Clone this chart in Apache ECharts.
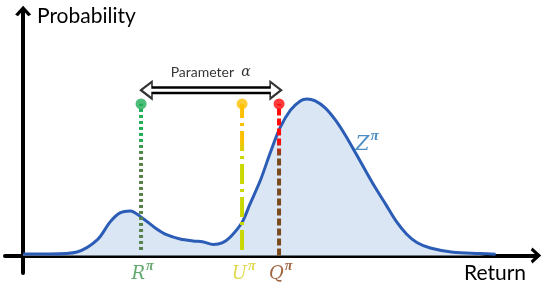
<!DOCTYPE html>
<html>
<head>
<meta charset="utf-8">
<script src="https://cdn.jsdelivr.net/npm/echarts@6/dist/echarts.min.js"></script>
<style>
  html, body { margin: 0; padding: 0; background: #fff; }
  #show_charts { width: 550px; height: 292px; }
</style>
</head>
<body>
<div id="show_charts"></div>
<script>
// return distribution Z (density)
var xReturn = [0, 5.2, 10.4, 14.3, 16.8, 18.7, 20.7, 23.0, 25.5, 27.8, 30.3, 32.8, 34.8, 36.7, 38.4, 40.0,
    42.3, 43.8, 45.8, 47.7, 49.6, 51.6, 53.5, 54.8, 56.4, 58.3, 60.3, 62.2, 64.1, 66.0, 68.0, 70.0,
    72.0, 74.0, 76.0, 78.6, 83.0, 88.2, 91.2];
var yProb = [0.006, 0.006, 0.014, 0.062, 0.134, 0.17, 0.178, 0.15, 0.11, 0.082, 0.066, 0.058, 0.054, 0.044, 0.05, 0.074,
    0.134, 0.206, 0.30, 0.41, 0.51, 0.58, 0.617, 0.625, 0.617, 0.589, 0.54, 0.48, 0.412, 0.342, 0.27, 0.204,
    0.137, 0.086, 0.052, 0.03, 0.013, 0.008, 0.005];

// the three statistics R, U, Q
var markerNames = ['R', 'U', 'Q'];
var markerX = [22.76, 42.26, 49.4];
var markerTop = [0.605, 0.605, 0.605];
var markerBottom = [0.022, 0.022, 0.0];

// parameter alpha arrow (from R to Q)
var arrowY = 0.66;
var arrowFrom = 22.76;
var arrowTo = 49.8;

var myChart = echarts.init(document.getElementById('show_charts'));

var dashTypes = [[3, 3], [20, 5, 3, 5], [7, 3]];
var topColors = ['#1fae55', '#ffc000', '#ff0a0a'];
var lowColors = ['#55804a', '#c9d800', '#7a4a1e'];
var labelColors = ['#3c9448', '#d8d024', '#8a3f12'];

var series = [];

series.push({
    name: 'Z',
    type: 'line',
    smooth: 0.3,
    symbol: 'none',
    data: xReturn.map(function (x, i) { return [x, yProb[i]]; }),
    lineStyle: { color: '#2b5cb6', width: 3 },
    areaStyle: { color: '#dae6f3', opacity: 1 },
    z: 2
});

for (var i = 0; i < markerNames.length; i++) {
    series.push({
        name: markerNames[i],
        type: 'line',
        symbol: 'none',
        data: [[markerX[i], markerBottom[i]], [markerX[i], markerTop[i]]],
        lineStyle: {
            width: 4,
            type: dashTypes[i],
            color: {
                type: 'linear', x: 0, y: 0, x2: 0, y2: 1,
                colorStops: [
                    { offset: 0, color: topColors[i] },
                    { offset: 0.25, color: topColors[i] },
                    { offset: 0.35, color: lowColors[i] },
                    { offset: 1, color: lowColors[i] }
                ]
            }
        },
        z: 3
    });
}

// dots on top of the marker lines
series.push({
    type: 'scatter',
    symbol: 'circle',
    symbolSize: 11,
    data: markerX.map(function (x, i) {
        return { value: [x, markerTop[i]], itemStyle: { color: topColors[i] } };
    }),
    z: 4
});

// hollow double arrow
var headLen = 2.1;
series.push({
    type: 'line', symbol: 'none', silent: true,
    data: [[arrowFrom + headLen, arrowY], [arrowTo - headLen, arrowY]],
    lineStyle: { color: '#000', width: 8 },
    z: 5
});
series.push({
    type: 'scatter', silent: true,
    symbol: 'triangle',
    symbolSize: [17, 11],
    itemStyle: { color: '#fff', borderColor: '#000', borderWidth: 2 },
    data: [
        { value: [arrowFrom + headLen / 2, arrowY], symbolRotate: 90 },
        { value: [arrowTo - headLen / 2, arrowY], symbolRotate: -90 }
    ],
    z: 6
});
series.push({
    type: 'line', symbol: 'none', silent: true,
    data: [[arrowFrom + headLen - 0.5, arrowY], [arrowTo - headLen + 0.5, arrowY]],
    lineStyle: { color: '#fff', width: 3 },
    z: 7
});

// text labels
var labelRich = function (color, size) {
    return {
        b: { color: color, fontFamily: 'DejaVu Serif', fontStyle: 'italic', fontSize: size, lineHeight: size + 6, verticalAlign: 'bottom' },
        s: { color: color, fontFamily: 'Liberation Serif', fontStyle: 'italic', fontWeight: 'bold', fontSize: Math.round(size * 0.75),
            verticalAlign: 'top', lineHeight: Math.round(size * 0.75), padding: [0, 0, 0, 1] }
    };
};
var labelData = [];
for (var i = 0; i < markerNames.length; i++) {
    labelData.push({
        value: [markerX[i] + 0.3, -0.065],
        label: { formatter: '{b|' + markerNames[i] + '}{s|π}', rich: labelRich(labelColors[i], 18) }
    });
}
labelData.push({
    value: [66.4, 0.455],
    label: { formatter: '{b|Z}{s|π}', rich: labelRich('#2070b8', 20) }
});
labelData.push({
    value: [36.2, 0.73],
    label: {
        formatter: 'Parameter  {a|α}',
        color: '#000', fontFamily: 'Lato', fontSize: 14,
        rich: { a: { fontFamily: 'DejaVu Serif', fontStyle: 'italic', fontSize: 14, color: '#000' } }
    }
});
series.push({
    type: 'scatter',
    symbolSize: 0,
    silent: true,
    clip: false,
    data: labelData,
    label: { show: true, position: 'inside' },
    z: 8
});

var chevron = 'path://M0,11 L10,0 L20,11 L16.5,13 L10,6 L3.5,13 Z';

option = {
    animation: false,
    grid: { left: 5, right: 14, top: 11, bottom: 19 },
    xAxis: {
        type: 'value', min: -3.5, max: 99,
        axisLine: { show: true, onZero: true, lineStyle: { color: '#000', width: 4 }, symbol: ['none', chevron], symbolSize: [16, 13] },
        axisTick: { show: false }, axisLabel: { show: false }, splitLine: { show: false }
    },
    yAxis: {
        type: 'value', min: -0.07, max: 0.976,
        axisLine: { show: true, onZero: true, lineStyle: { color: '#000', width: 4 }, symbol: ['none', chevron], symbolSize: [16, 13] },
        axisTick: { show: false }, axisLabel: { show: false }, splitLine: { show: false }
    },
    graphic: [
        { type: 'text', left: 37, top: 6, style: { text: 'Probability', font: '21px Lato', fill: '#000' } },
        { type: 'text', left: 464, top: 263, style: { text: 'Return', font: '21px Lato', fill: '#000' } }
    ],
    series: series
};

myChart.setOption(option);
</script>
</body>
</html>
